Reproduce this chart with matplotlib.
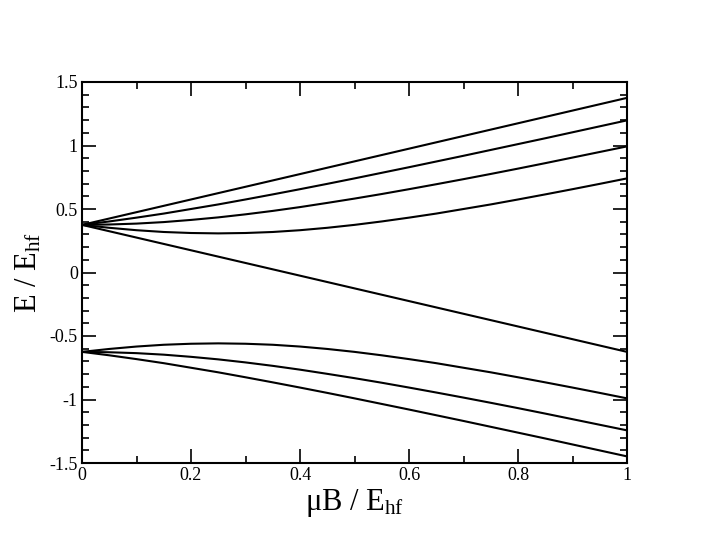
import numpy as np
import matplotlib
matplotlib.use("Agg")
import matplotlib.pyplot as plt
from matplotlib import rcParams
from matplotlib.ticker import MultipleLocator, FuncFormatter

# x = muB / E_hf, values every 0.05
x = [0.0, 0.05, 0.1, 0.15, 0.2, 0.25, 0.3, 0.35, 0.4, 0.45, 0.5,
     0.55, 0.6, 0.65, 0.7, 0.75, 0.8, 0.85, 0.9, 0.95, 1.0]

# upper manifold (F=2)
up_top = [0.375, 0.425, 0.475, 0.525, 0.575, 0.625, 0.675, 0.725, 0.775, 0.825, 0.875,
          0.925, 0.975, 1.025, 1.075, 1.125, 1.175, 1.225, 1.275, 1.325, 1.375]
up_2 = [0.375, 0.402, 0.432, 0.464, 0.500, 0.536, 0.575, 0.615, 0.656, 0.698, 0.741,
        0.785, 0.829, 0.874, 0.919, 0.965, 1.011, 1.057, 1.104, 1.151, 1.198]
up_3 = [0.375, 0.378, 0.385, 0.397, 0.414, 0.434, 0.458, 0.485, 0.515, 0.548, 0.582,
        0.618, 0.656, 0.695, 0.735, 0.776, 0.818, 0.861, 0.905, 0.949, 0.993]
up_4 = [0.375, 0.352, 0.333, 0.319, 0.311, 0.308, 0.311, 0.319, 0.333, 0.352, 0.375,
        0.402, 0.432, 0.464, 0.500, 0.536, 0.575, 0.615, 0.656, 0.698, 0.741]
up_5 = [0.375, 0.325, 0.275, 0.225, 0.175, 0.125, 0.075, 0.025, -0.025, -0.075, -0.125,
        -0.175, -0.225, -0.275, -0.325, -0.375, -0.425, -0.475, -0.525, -0.575, -0.625]

# lower manifold (F=1)
lo_1 = [-0.625, -0.602, -0.583, -0.569, -0.561, -0.558, -0.561, -0.569, -0.583, -0.602, -0.625,
        -0.652, -0.682, -0.714, -0.750, -0.786, -0.825, -0.865, -0.906, -0.948, -0.991]
lo_2 = [-0.625, -0.628, -0.635, -0.647, -0.664, -0.684, -0.708, -0.735, -0.765, -0.798, -0.832,
        -0.868, -0.906, -0.945, -0.985, -1.026, -1.068, -1.111, -1.155, -1.199, -1.243]
lo_3 = [-0.625, -0.652, -0.682, -0.714, -0.750, -0.786, -0.825, -0.865, -0.906, -0.948, -0.991,
        -1.035, -1.079, -1.124, -1.169, -1.215, -1.261, -1.307, -1.354, -1.401, -1.448]

levels = [up_top, up_2, up_3, up_4, up_5, lo_1, lo_2, lo_3]

rcParams['font.family'] = ['Liberation Serif', 'DejaVu Serif']
rcParams['mathtext.fontset'] = 'custom'
rcParams['mathtext.rm'] = 'Liberation Serif'
rcParams['mathtext.it'] = 'Liberation Serif'

fig = plt.figure(figsize=(7.05, 5.45), dpi=100)
ax = fig.add_axes([82/705, 1-463/545, (627-82)/705, (463-82)/545])

for lev in levels:
    ax.plot(x, lev, color='black', lw=1.5)

ax.set_xlim(0, 1)
ax.set_ylim(-1.5, 1.5)
ax.xaxis.set_major_locator(MultipleLocator(0.2))
ax.xaxis.set_minor_locator(MultipleLocator(0.1))
ax.yaxis.set_major_locator(MultipleLocator(0.5))
ax.yaxis.set_minor_locator(MultipleLocator(0.1))

fmt = FuncFormatter(lambda v, p: ('%g' % round(v, 3)))
ax.xaxis.set_major_formatter(fmt)
ax.yaxis.set_major_formatter(fmt)

ax.tick_params(which='both', direction='in', top=True, right=True, width=1.2, labelsize=13, pad=3)
ax.tick_params(which='major', length=10)
ax.tick_params(which='minor', length=5)
for s in ax.spines.values():
    s.set_linewidth(1.5)

ax.set_xlabel(r'$\mu$B / E$_{\rm hf}$', fontsize=22, labelpad=2)
ax.set_ylabel(r'E / E$_{\rm hf}$', fontsize=22, labelpad=4)

fig.savefig('out.png', dpi=100)
